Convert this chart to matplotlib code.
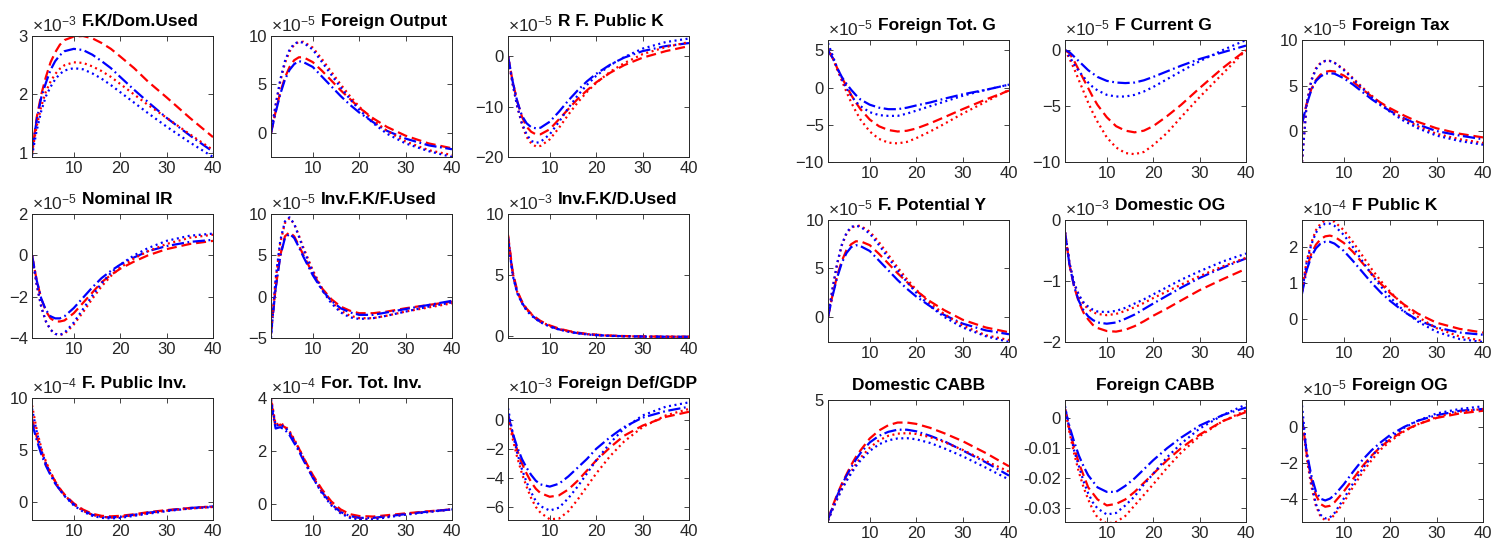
import numpy as np
import matplotlib
matplotlib.use("Agg")
import matplotlib.pyplot as plt

plt.rcParams['font.family'] = ['Liberation Sans', 'DejaVu Sans']
plt.rcParams['mathtext.fontset'] = 'custom'
plt.rcParams['mathtext.rm'] = 'Liberation Sans'
plt.rcParams['mathtext.it'] = 'Liberation Sans:italic'

W, H = 1495, 547

# horizon (quarters) at which the responses are sampled
periods = [1, 2, 3, 4, 5, 6, 7, 8, 10, 12, 14, 16, 18, 20, 23, 26, 30, 35, 40]

# each panel: rows = red dashed, blue dash-dot, red dotted, blue dotted
fk_dom_used = [
    [1.0, 1.6, 2.0, 2.3, 2.55, 2.72, 2.85, 2.93, 2.99, 3.0, 2.96, 2.88, 2.78, 2.65, 2.45, 2.22, 1.95, 1.6, 1.27],
    [1.05, 1.55, 1.95, 2.2, 2.42, 2.57, 2.67, 2.74, 2.78, 2.76, 2.68, 2.57, 2.45, 2.3, 2.08, 1.87, 1.6, 1.3, 1.02],
    [1.0, 1.45, 1.8, 2.05, 2.22, 2.35, 2.44, 2.5, 2.55, 2.54, 2.48, 2.4, 2.3, 2.18, 2.0, 1.82, 1.6, 1.32, 1.05],
    [0.95, 1.38, 1.72, 1.97, 2.13, 2.26, 2.35, 2.41, 2.45, 2.43, 2.36, 2.27, 2.16, 2.04, 1.86, 1.68, 1.45, 1.18, 0.93],
]
foreign_output = [
    [0, 2.2, 4.2, 5.7, 6.8, 7.5, 7.8, 7.8, 7.3, 6.4, 5.4, 4.4, 3.5, 2.6, 1.5, 0.6, -0.3, -1.1, -1.6],
    [0, 2.1, 4.0, 5.5, 6.5, 7.1, 7.4, 7.3, 6.8, 5.8, 4.8, 3.8, 2.9, 2.1, 1.1, 0.2, -0.6, -1.3, -1.7],
    [0, 2.8, 5.3, 7.2, 8.4, 9.1, 9.4, 9.4, 8.8, 7.6, 6.3, 5.0, 3.8, 2.7, 1.3, 0.2, -0.9, -1.8, -2.3],
    [0, 2.9, 5.5, 7.4, 8.6, 9.2, 9.4, 9.3, 8.6, 7.3, 6.0, 4.7, 3.5, 2.4, 1.0, -0.1, -1.1, -1.9, -2.5],
]
r_f_public_k = [
    [0, -5, -9, -12, -14, -15, -15.5, -15.5, -14.5, -12.5, -10.5, -8.5, -6.8, -5.2, -3.3, -1.8, -0.3, 1.0, 2.0],
    [0, -5, -9, -11.8, -13.3, -14.1, -14.3, -14.2, -13, -11, -8.8, -6.8, -5, -3.5, -1.7, -0.3, 1.0, 2.0, 2.6],
    [0, -5.5, -10, -13.5, -16, -17.3, -17.9, -17.8, -16.5, -14.2, -11.6, -9.2, -7.1, -5.3, -3.1, -1.4, 0.4, 1.8, 2.8],
    [0, -5.5, -10, -13.3, -15.5, -16.8, -17.2, -17, -15.5, -13, -10.3, -7.8, -5.7, -3.9, -1.8, -0.2, 1.5, 2.8, 3.5],
]
nominal_ir = [
    [0, -1.2, -2.1, -2.7, -3.05, -3.2, -3.2, -3.15, -2.8, -2.3, -1.8, -1.3, -0.95, -0.65, -0.3, 0.0, 0.3, 0.55, 0.7],
    [0, -1.2, -2.1, -2.65, -2.95, -3.05, -3.05, -2.95, -2.55, -2.05, -1.55, -1.1, -0.75, -0.45, -0.1, 0.2, 0.45, 0.65, 0.75],
    [0, -1.4, -2.5, -3.2, -3.6, -3.8, -3.85, -3.8, -3.35, -2.75, -2.1, -1.5, -1.0, -0.6, -0.15, 0.2, 0.55, 0.85, 1.0],
    [0, -1.4, -2.5, -3.2, -3.6, -3.8, -3.85, -3.75, -3.25, -2.6, -1.95, -1.35, -0.85, -0.45, 0.0, 0.35, 0.7, 0.95, 1.05],
]
inv_fk_f_used = [
    [-4, 1.0, 5.0, 7.3, 7.8, 7.3, 6.2, 5.0, 2.8, 1.0, -0.3, -1.2, -1.7, -2.0, -2.0, -1.8, -1.4, -1.0, -0.6],
    [-4.5, 1.0, 4.9, 7.1, 7.6, 7.1, 6.0, 4.8, 2.6, 0.8, -0.5, -1.4, -1.9, -2.2, -2.2, -1.9, -1.5, -1.0, -0.5],
    [-4.5, 2.0, 6.5, 8.9, 9.5, 8.8, 7.4, 5.9, 3.2, 1.0, -0.6, -1.7, -2.3, -2.6, -2.6, -2.3, -1.8, -1.3, -0.8],
    [-5, 2.2, 6.8, 9.1, 9.6, 8.8, 7.3, 5.7, 3.0, 0.8, -0.8, -1.9, -2.5, -2.7, -2.6, -2.3, -1.8, -1.2, -0.7],
]
inv_fk_d_used = [
    [8.3, 5.3, 3.7, 2.85, 2.25, 1.85, 1.52, 1.25, 0.88, 0.62, 0.43, 0.29, 0.19, 0.12, 0.05, 0.01, -0.02, -0.04, -0.05],
    [8.1, 5.1, 3.55, 2.75, 2.15, 1.75, 1.43, 1.17, 0.8, 0.56, 0.38, 0.25, 0.16, 0.09, 0.03, 0.0, -0.03, -0.05, -0.05],
    [8.2, 5.2, 3.6, 2.8, 2.2, 1.8, 1.48, 1.2, 0.84, 0.58, 0.4, 0.26, 0.17, 0.1, 0.04, 0.0, -0.03, -0.05, -0.05],
    [8.0, 5.0, 3.5, 2.7, 2.1, 1.7, 1.4, 1.13, 0.78, 0.54, 0.36, 0.23, 0.14, 0.08, 0.02, -0.01, -0.04, -0.05, -0.06],
]
f_public_inv = [
    [8.0, 6.3, 4.9, 3.7, 2.8, 2.0, 1.3, 0.75, -0.1, -0.7, -1.1, -1.3, -1.35, -1.3, -1.15, -0.95, -0.75, -0.55, -0.4],
    [7.6, 6.0, 4.6, 3.5, 2.6, 1.8, 1.2, 0.65, -0.2, -0.8, -1.2, -1.4, -1.45, -1.4, -1.2, -1.0, -0.8, -0.55, -0.4],
    [9.3, 7.0, 5.2, 3.9, 2.9, 2.0, 1.3, 0.7, -0.2, -0.8, -1.2, -1.4, -1.45, -1.4, -1.25, -1.05, -0.8, -0.6, -0.45],
    [9.0, 6.8, 5.0, 3.7, 2.7, 1.9, 1.2, 0.6, -0.3, -0.9, -1.3, -1.5, -1.55, -1.5, -1.3, -1.1, -0.85, -0.6, -0.45],
]
for_tot_inv = [
    [3.9, 2.9, 3.0, 2.9, 2.7, 2.4, 2.1, 1.75, 1.1, 0.55, 0.1, -0.2, -0.38, -0.45, -0.47, -0.42, -0.35, -0.27, -0.2],
    [3.8, 2.85, 2.9, 2.8, 2.6, 2.3, 2.0, 1.65, 1.0, 0.45, 0.0, -0.3, -0.45, -0.52, -0.52, -0.46, -0.38, -0.28, -0.2],
    [4.0, 3.0, 3.05, 2.95, 2.75, 2.45, 2.1, 1.75, 1.05, 0.45, 0.0, -0.3, -0.48, -0.55, -0.55, -0.48, -0.38, -0.28, -0.2],
    [3.95, 2.95, 3.0, 2.9, 2.7, 2.4, 2.05, 1.7, 1.0, 0.4, -0.05, -0.35, -0.52, -0.58, -0.58, -0.5, -0.4, -0.3, -0.2],
]
foreign_def_gdp = [
    [0.3, -1.0, -2.1, -3.0, -3.7, -4.3, -4.75, -5.05, -5.3, -5.2, -4.8, -4.2, -3.5, -2.8, -1.9, -1.1, -0.4, 0.2, 0.55],
    [0.4, -0.9, -1.9, -2.7, -3.3, -3.8, -4.2, -4.45, -4.6, -4.4, -3.9, -3.3, -2.7, -2.0, -1.2, -0.5, 0.15, 0.6, 0.9],
    [0.2, -1.3, -2.6, -3.7, -4.6, -5.4, -6.0, -6.4, -6.85, -6.8, -6.3, -5.5, -4.6, -3.7, -2.5, -1.5, -0.5, 0.3, 0.75],
    [0.8, -0.9, -2.3, -3.4, -4.3, -5.0, -5.6, -5.95, -6.25, -6.05, -5.4, -4.6, -3.7, -2.8, -1.6, -0.6, 0.3, 0.9, 1.2],
]
foreign_tot_g = [
    [5.0, 4.0, 2.6, 1.3, 0.2, -1.0, -2.0, -2.9, -4.3, -5.2, -5.7, -5.9, -5.8, -5.5, -4.8, -4.0, -2.9, -1.6, -0.4],
    [5.0, 4.0, 2.6, 1.4, 0.5, -0.3, -1.0, -1.6, -2.3, -2.7, -2.9, -2.9, -2.7, -2.4, -2.0, -1.5, -0.9, -0.3, 0.4],
    [5.3, 4.0, 2.4, 0.9, -0.6, -2.0, -3.2, -4.3, -5.9, -6.9, -7.4, -7.5, -7.3, -6.8, -5.9, -4.9, -3.5, -1.9, -0.3],
    [6.0, 4.3, 2.6, 1.1, -0.1, -1.1, -1.9, -2.5, -3.3, -3.7, -3.8, -3.8, -3.5, -3.1, -2.5, -1.9, -1.1, -0.3, 0.4],
]
f_current_g = [
    [0, -0.3, -1.0, -1.8, -2.6, -3.4, -4.2, -4.9, -6.0, -6.8, -7.2, -7.35, -7.2, -6.8, -5.9, -4.9, -3.4, -1.6, 0.0],
    [0, -0.2, -0.6, -1.0, -1.4, -1.8, -2.1, -2.4, -2.75, -2.9, -2.95, -2.9, -2.7, -2.4, -1.9, -1.4, -0.8, -0.2, 0.4],
    [0, -0.8, -1.7, -2.7, -3.7, -4.7, -5.6, -6.4, -7.8, -8.7, -9.2, -9.3, -9.1, -8.5, -7.4, -6.0, -4.2, -2.1, 0.0],
    [0, -0.6, -1.3, -1.9, -2.4, -2.9, -3.3, -3.6, -4.0, -4.15, -4.15, -4.0, -3.7, -3.3, -2.6, -1.9, -1.0, 0.0, 0.9],
]
foreign_tax = [
    [0.8, 3.0, 4.6, 5.6, 6.2, 6.5, 6.6, 6.55, 6.1, 5.4, 4.6, 3.8, 3.1, 2.5, 1.7, 1.0, 0.3, -0.3, -0.7],
    [0.8, 2.9, 4.5, 5.5, 6.0, 6.3, 6.35, 6.3, 5.8, 5.1, 4.3, 3.5, 2.8, 2.2, 1.4, 0.7, 0.0, -0.5, -0.9],
    [-3.4, 3.0, 5.6, 6.9, 7.5, 7.7, 7.7, 7.5, 6.8, 5.8, 4.8, 3.9, 3.0, 2.3, 1.3, 0.5, -0.3, -0.9, -1.3],
    [-3.4, 2.9, 5.5, 6.8, 7.4, 7.7, 7.7, 7.5, 6.7, 5.7, 4.7, 3.7, 2.9, 2.1, 1.1, 0.3, -0.5, -1.1, -1.5],
]
f_potential_y = [
    [0, 2.3, 4.3, 5.8, 6.9, 7.5, 7.8, 7.8, 7.4, 6.5, 5.5, 4.5, 3.6, 2.7, 1.6, 0.7, -0.3, -1.1, -1.6],
    [0, 2.2, 4.1, 5.6, 6.6, 7.2, 7.4, 7.3, 6.8, 5.8, 4.8, 3.8, 2.9, 2.1, 1.1, 0.2, -0.7, -1.4, -1.8],
    [0, 2.9, 5.5, 7.4, 8.6, 9.2, 9.4, 9.4, 8.8, 7.7, 6.4, 5.1, 3.9, 2.8, 1.4, 0.3, -0.9, -1.9, -2.4],
    [0, 3.0, 5.6, 7.5, 8.7, 9.3, 9.4, 9.3, 8.6, 7.4, 6.1, 4.8, 3.6, 2.5, 1.1, 0.0, -1.1, -2.0, -2.6],
]
domestic_og = [
    [-0.2, -0.75, -1.1, -1.35, -1.52, -1.63, -1.72, -1.77, -1.82, -1.83, -1.8, -1.74, -1.66, -1.57, -1.45, -1.32, -1.15, -0.97, -0.8],
    [-0.2, -0.75, -1.1, -1.33, -1.48, -1.58, -1.64, -1.68, -1.7, -1.68, -1.62, -1.55, -1.46, -1.37, -1.24, -1.11, -0.95, -0.78, -0.63],
    [-0.2, -0.72, -1.05, -1.25, -1.38, -1.46, -1.51, -1.54, -1.56, -1.54, -1.49, -1.43, -1.36, -1.28, -1.17, -1.06, -0.92, -0.76, -0.62],
    [-0.2, -0.72, -1.04, -1.23, -1.35, -1.42, -1.47, -1.5, -1.51, -1.49, -1.44, -1.37, -1.3, -1.22, -1.1, -0.98, -0.84, -0.68, -0.55],
]
f_public_k = [
    [0.75, 1.4, 1.8, 2.05, 2.2, 2.28, 2.3, 2.27, 2.1, 1.85, 1.55, 1.25, 0.97, 0.72, 0.4, 0.15, -0.1, -0.27, -0.37],
    [0.7, 1.35, 1.72, 1.95, 2.08, 2.13, 2.13, 2.08, 1.88, 1.6, 1.3, 1.0, 0.73, 0.5, 0.2, -0.03, -0.23, -0.37, -0.43],
    [0.8, 1.6, 2.1, 2.45, 2.63, 2.72, 2.73, 2.68, 2.45, 2.12, 1.75, 1.38, 1.05, 0.75, 0.37, 0.06, -0.25, -0.48, -0.6],
    [0.75, 1.55, 2.05, 2.38, 2.55, 2.63, 2.63, 2.57, 2.32, 1.98, 1.6, 1.23, 0.9, 0.6, 0.22, -0.07, -0.35, -0.55, -0.63],
]
domestic_cabb = [
    [0.5, 1.0, 1.45, 1.85, 2.2, 2.55, 2.85, 3.1, 3.55, 3.85, 4.05, 4.15, 4.15, 4.1, 3.95, 3.75, 3.45, 3.0, 2.5],
    [0.5, 0.95, 1.4, 1.8, 2.15, 2.45, 2.75, 3.0, 3.4, 3.65, 3.8, 3.88, 3.88, 3.82, 3.65, 3.45, 3.1, 2.65, 2.15],
    [0.45, 0.9, 1.3, 1.68, 2.0, 2.3, 2.58, 2.82, 3.2, 3.48, 3.65, 3.73, 3.75, 3.72, 3.6, 3.42, 3.12, 2.7, 2.3],
    [0.45, 0.88, 1.27, 1.63, 1.95, 2.23, 2.5, 2.72, 3.08, 3.33, 3.48, 3.55, 3.56, 3.52, 3.38, 3.18, 2.88, 2.45, 2.0],
]
foreign_cabb = [
    [0.003, -0.004, -0.01, -0.015, -0.019, -0.023, -0.025, -0.027, -0.029, -0.0285, -0.027, -0.0245, -0.0215, -0.0185, -0.014, -0.01, -0.0055, -0.001, 0.002],
    [0.003, -0.003, -0.008, -0.0125, -0.016, -0.019, -0.021, -0.023, -0.0245, -0.0245, -0.0225, -0.02, -0.017, -0.014, -0.01, -0.0065, -0.0025, 0.001, 0.0035],
    [0.003, -0.005, -0.012, -0.018, -0.023, -0.027, -0.0305, -0.033, -0.035, -0.0345, -0.0325, -0.029, -0.0255, -0.022, -0.0165, -0.0115, -0.006, -0.001, 0.0025],
    [0.004, -0.004, -0.011, -0.016, -0.021, -0.025, -0.028, -0.03, -0.032, -0.0315, -0.029, -0.026, -0.022, -0.0185, -0.013, -0.0085, -0.0035, 0.001, 0.0045],
]
foreign_og = [
    [0.5, -1.5, -2.9, -3.8, -4.3, -4.45, -4.4, -4.2, -3.6, -2.9, -2.2, -1.6, -1.1, -0.7, -0.2, 0.15, 0.5, 0.75, 0.9],
    [0.5, -1.4, -2.7, -3.6, -4.0, -4.1, -4.0, -3.8, -3.2, -2.5, -1.85, -1.3, -0.85, -0.45, 0.0, 0.35, 0.65, 0.9, 1.0],
    [0.6, -1.7, -3.3, -4.4, -5.0, -5.2, -5.15, -4.9, -4.2, -3.35, -2.55, -1.85, -1.25, -0.8, -0.25, 0.15, 0.55, 0.85, 1.0],
    [1.2, -1.4, -3.1, -4.3, -4.9, -5.1, -5.05, -4.8, -4.0, -3.15, -2.35, -1.65, -1.05, -0.6, -0.05, 0.35, 0.75, 1.0, 1.15],
]

left_titles = ['F.K/Dom.Used', 'Foreign Output', 'R F. Public K',
               'Nominal IR', 'Inv.F.K/F.Used', 'Inv.F.K/D.Used',
               'F. Public Inv.', 'For. Tot. Inv.', 'Foreign Def/GDP']
right_titles = ['Foreign Tot. G', 'F Current G', 'Foreign Tax',
                'F. Potential Y', 'Domestic OG', 'F Public K',
                'Domestic CABB', 'Foreign CABB', 'Foreign OG']
left_data = [fk_dom_used, foreign_output, r_f_public_k,
             nominal_ir, inv_fk_f_used, inv_fk_d_used,
             f_public_inv, for_tot_inv, foreign_def_gdp]
right_data = [foreign_tot_g, f_current_g, foreign_tax,
              f_potential_y, domestic_og, f_public_k,
              domestic_cabb, foreign_cabb, foreign_og]
left_exp = [-3, -5, -5, -5, -5, -3, -4, -4, -3]
right_exp = [-5, -5, -5, -5, -3, -4, None, None, -5]
left_ylim = [(0.93, 3.0), (-2.5, 10), (-20, 4), (-4, 2), (-5, 10), (-0.15, 10),
             (-1.7, 10), (-0.6, 4), (-6.9, 1.5)]
right_ylim = [(-10, 6.4), (-10, 0.9), (-3.4, 10), (-2.6, 10), (-2, 0), (-0.63, 2.73),
              (0.4, 5), (-0.0345, 0.006), (-5.3, 1.5)]
left_yticks = [[1, 2, 3], [0, 5, 10], [-20, -10, 0], [-4, -2, 0, 2], [-5, 0, 5, 10],
               [0, 5, 10], [0, 5, 10], [0, 2, 4], [-6, -4, -2, 0]]
right_yticks = [[-10, -5, 0, 5], [-10, -5, 0], [0, 5, 10], [0, 5, 10], [-2, -1, 0],
                [0, 1, 2], [5], [-0.03, -0.02, -0.01, 0], [-4, -2, 0]]

# line styles: red dashed, blue dash-dot, red dotted, blue dotted
styles = [('#ff0000', (0, (4.5, 2.2))),
          ('#0000ff', (0, (5.5, 1.6, 0.8, 1.6))),
          ('#ff0000', (0, (0.9, 1.6))),
          ('#0000ff', (0, (0.9, 1.6)))]

col_x = {'L': [32, 271, 508], 'R': [828, 1065, 1302]}
row_top = {'L': [36, 214, 398], 'R': [40, 220, 400]}
ax_w = 181
ax_h = {'L': [121, 124, 122], 'R': [122, 122, 122]}

fig = plt.figure(figsize=(W / 100, H / 100), dpi=100)
ink = '#262626'

panels = []
for side, titles, datas, exps, ylims, yticks in [
        ('L', left_titles, left_data, left_exp, left_ylim, left_yticks),
        ('R', right_titles, right_data, right_exp, right_ylim, right_yticks)]:
    for k in range(9):
        r, c = divmod(k, 3)
        x0 = col_x[side][c]
        top = row_top[side][r]
        h = ax_h[side][r]
        ax = fig.add_axes([x0 / W, 1 - (top + h) / H, ax_w / W, h / H])
        for series, (color, ls) in zip(datas[k], styles):
            ax.plot(periods, series, color=color, linestyle=ls, linewidth=1.6)
        ax.set_xlim(1, 40)
        ax.set_ylim(*ylims[k])
        ax.set_xticks([10, 20, 30, 40])
        ax.set_yticks(yticks[k])
        if side == 'R' and k == 7:
            ax.set_yticklabels(['-0.03', '-0.02', '-0.01', '0'])
        ax.tick_params(direction='in', top=True, right=True, length=3.5, width=0.6,
                       labelsize=12, colors=ink, pad=3)
        for sp in ax.spines.values():
            sp.set_linewidth(0.7)
            sp.set_color(ink)
        exp_txt = None
        if exps[k] is not None:
            exp_txt = ax.text(0.0, 1.015, r'$\times$10$^{%d}$' % exps[k], transform=ax.transAxes,
                              ha='left', va='bottom', fontsize=12.5, color=ink)
        ttl = ax.text(0.5, 1.06, titles[k], transform=ax.transAxes, ha='center', va='bottom',
                      fontsize=12.5, fontweight='bold', color='black')
        panels.append((ax, exp_txt, ttl))

# push titles right so they clear the exponent label
fig.canvas.draw()
rend = fig.canvas.get_renderer()
for ax, exp_txt, ttl in panels:
    if exp_txt is None:
        continue
    be = exp_txt.get_window_extent(rend)
    bt = ttl.get_window_extent(rend)
    gap = be.x1 + 5 - bt.x0
    if gap > 0:
        axb = ax.get_window_extent(rend)
        xc = 0.5 + gap / axb.width
        ttl.set_x(xc)

fig.savefig('out.png', dpi=100)
